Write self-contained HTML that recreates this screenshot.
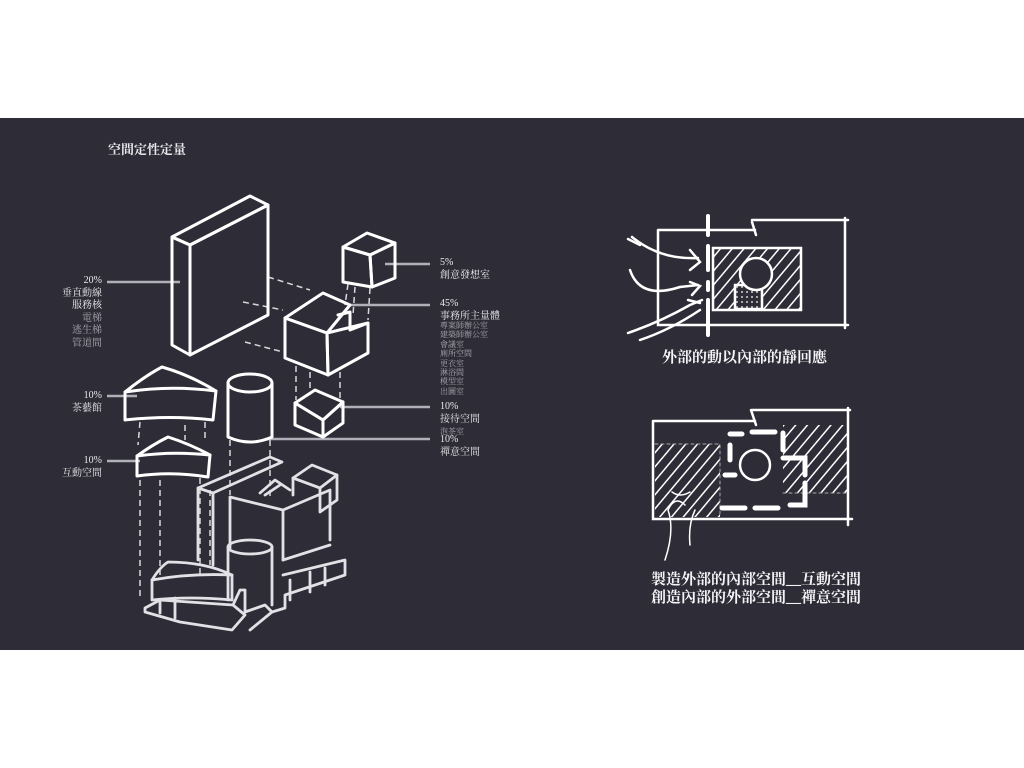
<!DOCTYPE html>
<html><head><meta charset="utf-8"><style>
html,body{margin:0;padding:0;background:#fff;}
body{width:1024px;height:768px;position:relative;overflow:hidden;font-family:"Liberation Serif","Noto Serif CJK SC","Noto Sans CJK TC",serif;}
#panel{position:absolute;left:0;top:118px;width:1024px;height:532px;background:#2e2d37;}
svg{position:absolute;left:0;top:0;}
.t{position:absolute;color:#e8e8ec;font-size:10px;line-height:12.5px;white-space:nowrap;}
.r{text-align:right;}
.g{color:#a9a9b2;}
.b{font-weight:bold;}
.cap{position:absolute;color:#f4f4f6;font-weight:bold;font-size:15px;line-height:18px;white-space:nowrap;}
</style></head><body>
<div id="panel"></div>
<svg width="1024" height="768" viewBox="0 0 1024 768">
<defs>
<pattern id="h" width="9" height="9" patternUnits="userSpaceOnUse" patternTransform="rotate(40)">
<rect width="9" height="9" fill="#2e2d37"/><line x1="0" y1="0" x2="0" y2="9" stroke="#fff" stroke-width="3"/></pattern>
<pattern id="d" width="5" height="5" patternUnits="userSpaceOnUse"><rect width="5" height="5" fill="#2e2d37"/><circle cx="2" cy="2" r="0.9" fill="#fff"/></pattern>
</defs>
<g stroke="#b0b0b8" stroke-width="2.5">
<line x1="107" y1="282" x2="180" y2="282"/>
<line x1="107" y1="396" x2="137" y2="396"/>
<line x1="107" y1="461" x2="140" y2="461"/>
<line x1="385" y1="264" x2="430" y2="264"/>
<line x1="350" y1="305" x2="430" y2="305"/>
<line x1="340" y1="407" x2="430" y2="407"/>
<line x1="265" y1="439" x2="430" y2="439"/>
</g>
<g stroke="#d8d8dc" stroke-width="1.5" stroke-dasharray="6,4" fill="none">
<line x1="268" y1="277" x2="310" y2="290"/><line x1="243" y1="302" x2="283" y2="310"/><line x1="245" y1="342" x2="283" y2="352"/>
<line x1="348" y1="284" x2="345" y2="305"/><line x1="355" y1="287" x2="353" y2="315"/><line x1="370" y1="288" x2="368" y2="320"/>
<line x1="296" y1="366" x2="296" y2="400"/><line x1="310" y1="372" x2="310" y2="395"/><line x1="340" y1="372" x2="340" y2="400"/>
<line x1="140" y1="422" x2="138" y2="445"/><line x1="185" y1="425" x2="185" y2="440"/><line x1="205" y1="422" x2="205" y2="440"/>
<line x1="140" y1="480" x2="140" y2="600"/><line x1="160" y1="480" x2="160" y2="575"/><line x1="200" y1="478" x2="200" y2="575"/>
<line x1="230" y1="440" x2="230" y2="495"/><line x1="270" y1="440" x2="270" y2="500"/>
<line x1="210" y1="490" x2="210" y2="565"/>
</g>
<g stroke="#fff" stroke-width="3" fill="none" stroke-linejoin="round" stroke-linecap="round">
<polygon points="172,237 250,196 268,205 190,245"/>
<polygon points="172,237 190,245 190,355 172,345"/>
<polygon points="190,245 268,205 268,315 190,355"/>
<polygon points="343,247 367,233 395,243 370,255"/>
<polygon points="343,247 370,255 372,287 343,282"/>
<polygon points="370,255 395,243 395,278 372,287"/>
<polygon points="285,318 323,293 350,305 327,333"/>
<polygon points="285,318 327,333 328,375 285,358"/>
<polygon points="327,333 368,323 368,353 328,375"/>
<polyline points="338,315 350,312 350,330 368,323"/>
<polygon points="295,403 315,390 343,402 323,420"/>
<polygon points="295,403 323,420 323,437 295,425"/>
<polygon points="323,420 343,402 343,423 323,437"/>
<ellipse cx="250" cy="383" rx="22" ry="9"/>
<path d="M228,383 V437 Q250,447 272,437 V383"/>
<path d="M125,392 Q145,376 162,367 Q190,375 216,391 Q170,385 125,392 Z"/>
<path d="M125,392 V420 Q170,415 213,420 L216,391"/>
<path d="M137,456 Q152,445 168,437 Q190,444 210,455 Q172,451 137,456 Z"/>
<path d="M137,456 V476 Q172,471 208,477 L210,455"/>
</g>
<g stroke="#e2e2e6" stroke-width="2.8" fill="none" stroke-linejoin="round" stroke-linecap="round">
<polygon points="198,488 270,457 282,462 213,493"/>
<path d="M198,488 V560 M213,493 V565"/>
<path d="M230,497 V548 M230,497 L283,510 L330,490 M283,510 V560 M330,490 V540"/>
<path d="M260,493 L275,480 L290,490 M265,495 L280,485"/>
<polygon points="293,478 312,465 337,475 320,488"/>
<path d="M293,478 V495 M320,488 V512 M337,475 V500 L320,512"/>
<ellipse cx="250" cy="547" rx="22" ry="7"/>
<path d="M228,547 V600 M272,547 V605"/>
<path d="M283,560 L330,545 M283,575 L345,560 V575 L285,595 V608 L272,612"/>
<path d="M290,580 V600 M310,572 V592 M325,568 V585"/>
<path d="M152,580 Q160,567 168,562 Q205,562 232,575 Q190,573 152,580 Z"/>
<path d="M152,580 V600 Q190,596 232,600 L232,575"/>
<path d="M145,608 L160,600 L233,605 L245,615 L232,630 L180,622 L145,612 Z"/>
<path d="M160,600 V613 M175,598 V618 M233,605 L240,590 L245,590 V612"/>
<path d="M245,612 L265,605 L272,612 L250,630"/>
</g>
<g stroke="#fff" stroke-width="2.5" fill="none" stroke-linecap="round">
<path d="M658,230 H755 M752,222 L756,235 M752,220 H848 M845,218 V328 M658,230 V325 H848"/>
<path d="M708,216 V235 M708,246 V270 M708,282 V290 M708,300 V335" stroke-width="4"/>
<rect x="713" y="248" width="88" height="62" fill="url(#h)"/>
<rect x="735" y="285" width="27" height="24" fill="url(#d)" stroke="#fff"/>
<circle cx="756" cy="274" r="16" fill="#2e2d37"/>
<path d="M632,237 Q660,260 698,258 M628,239 L640,245"/>
<path d="M630,270 Q640,300 680,287 L698,285"/>
<path d="M628,333 Q660,322 690,305 L702,300 M640,340 Q670,330 700,310"/>
<path d="M690,250 L700,262 L690,270 M690,282 L700,286 L692,295 M688,300 L700,303"/>
</g>
<g stroke="#fff" stroke-width="2.5" fill="none" stroke-linecap="round">
<rect x="655" y="444" width="65" height="73" fill="url(#h)" stroke="none"/>
<rect x="783" y="425" width="65" height="68" fill="url(#h)" stroke="none"/>
<path d="M653,421 H755 M751,410 L756,425 M752,410 H850 M848,408 V525 M653,421 V519 H852"/>
<path d="M655,444 H720 V517 M783,493 H848" stroke="#aaa" stroke-width="1" stroke-dasharray="3,3"/>
<path d="M730,434 H742 M752,432 H775 M783,433 V450 M783,458 H805 V475 M805,483 V505 H790 M778,508 H755 M745,508 H722 M725,475 H735 M730,460 V445" stroke-width="5"/>
<circle cx="755" cy="465" r="15"/>
<path d="M672,492 Q680,498 690,492 M665,560 Q675,530 668,510 Q675,495 685,505 M690,545 Q688,525 695,510" stroke-width="1.5"/>
</g>
</svg>
<div class="t b" style="left:108px;top:142px;font-size:13px;line-height:16px;">空間定性定量</div>
<div class="t r" style="right:922px;top:275px;">20%<br>垂直動線<br>服務核<br><span class="g">電梯<br>逃生梯<br>管道間</span></div>
<div class="t r" style="right:922px;top:390px;">10%<br>茶藝館</div>
<div class="t r" style="right:922px;top:455px;">10%<br>互動空間</div>
<div class="t" style="left:440px;top:257px;">5%<br>創意發想室</div>
<div class="t" style="left:440px;top:298px;">45%<br>事務所主量體</div>
<div class="t g" style="left:440px;top:321px;font-size:8px;line-height:9.4px;">專案師辦公室<br>建築師辦公室<br>會議室<br>廁所空間<br>更衣室<br>淋浴間<br>模型室<br>出圖室</div>
<div class="t" style="left:440px;top:401px;">10%<br>接待空間<br><span class="g" style="font-size:8px">泡茶室</span></div>
<div class="t" style="left:440px;top:434px;">10%<br>禪意空間</div>
<div class="cap" style="left:662px;top:349px;">外部的動以內部的靜回應</div>
<div class="cap" style="left:651px;top:571px;">製造外部的內部空間__互動空間<br>創造內部的外部空間__禪意空間</div>
</body></html>
